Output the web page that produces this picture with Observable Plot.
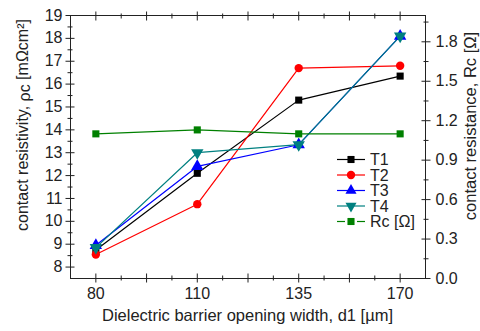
<!DOCTYPE html>
<html><head><meta charset="utf-8">
<script src="https://cdn.jsdelivr.net/npm/d3@7"></script>
<script src="https://cdn.jsdelivr.net/npm/@observablehq/plot@0.6"></script>
<style>
body{margin:0;background:#fff}
#wrap{position:relative;width:480px;height:331px}
#overlay{position:absolute;left:0;top:0;pointer-events:none}
</style>
</head><body><div id="wrap"></div>
<script>
// ---- data ----
const widths = [80, 110, 135, 170];               // d1 [µm], categories
const T1 = [8.75, 12.1, 15.3, 16.35];              // ρc [mΩcm²]
const T2 = [8.55, 10.75, 16.7, 16.8];
const T3 = [8.95, 12.4, 13.35, 18.1];
const T4 = [8.85, 13.0, 13.35, 18.1];
const Rc = [1.10, 1.13, 1.10, 1.10];               // Rc [Ω] (right axis)
const leftTicks = [8, 9, 10, 11, 12, 13, 14, 15, 16, 17, 18, 19];
const rightTicks = [0.0, 0.3, 0.6, 0.9, 1.2, 1.5, 1.8];
const leftDomain = [7.5, 19];
const rightDomain = [0, 2.0];
const seriesNames = ["T1", "T2", "T3", "T4", "Rc [Ω]"];
const seriesColors = ["#000000", "#ff0000", "#0000ff", "#008080", "#008000"];
const xTitle = "Dielectric barrier opening width, d1 [µm]";
const yLeftTitle = ["contact resistivity, ", "ρc", " [mΩcm²]"];
const yRightTitle = "contact resistance, Rc [Ω]";

// ---- helpers ----
const toLeft = r => leftDomain[0] + (r - rightDomain[0]) * (leftDomain[1] - leftDomain[0]) / (rightDomain[1] - rightDomain[0]);
const leftMinor = leftTicks.slice(0, -1).map(v => v + 0.5);
const rStep = rightTicks[1] - rightTicks[0];
const rightMinor = rightTicks.map(v => v + rStep / 2).filter(v => v < rightDomain[1]);
const xMajor = d3.range(0, widths.length - 0.99, 0.5);
const xMinor = xMajor.slice(0, -1).map(v => v + 0.25);
const xLabels = widths.map((_, i) => i);

const rows = [];
const seriesVals = [T1, T2, T3, T4, Rc.map(toLeft)];
seriesVals.forEach((arr, s) => arr.forEach((v, i) => rows.push({s: seriesNames[s], i, v})));

const symbols = ["square", "circle", "triangle", "triangle", "square"];
const rotates = [0, 0, 0, 180, 0];
const radii = [4, 4.2, 4.6, 4.6, 4];
const ink = "#222";
const font = "'Liberation Sans', Arial, sans-serif";

const W = 480, H = 331, mL = 70, mR = 55, mT = 15, mB = 53;

const marks = [];
marks.push(Plot.frame({stroke: ink}));
for (const anchor of ["bottom", "top"]) {
  const sign = anchor === "bottom" ? -1 : 1;
  marks.push(Plot.axisX(xMajor, {anchor, tickSize: 9, dy: sign * 4.5, fill: "none", label: null, stroke: ink}));
  marks.push(Plot.axisX(xMinor, {anchor, tickSize: 5, dy: sign * 2.5, fill: "none", label: null, stroke: ink}));
}
marks.push(Plot.axisX(xLabels, {anchor: "bottom", tickSize: 0, tickPadding: 9, tickFormat: i => widths[i], label: null, fill: ink}));
marks.push(Plot.axisY(leftTicks, {anchor: "left", tickSize: 9, dx: 4.5, fill: "none", label: null, stroke: ink}));
marks.push(Plot.axisY(leftMinor, {anchor: "left", tickSize: 5, dx: 2.5, fill: "none", label: null, stroke: ink}));
marks.push(Plot.axisY(leftTicks, {anchor: "left", tickSize: 0, tickPadding: 8, label: null, fill: ink}));
marks.push(Plot.axisY(rightTicks.map(toLeft), {anchor: "right", tickSize: 9, dx: -4.5, fill: "none", label: null, stroke: ink}));
marks.push(Plot.axisY(rightMinor.map(toLeft), {anchor: "right", tickSize: 5, dx: -2.5, fill: "none", label: null, stroke: ink}));
marks.push(Plot.axisY(rightTicks.map(toLeft), {anchor: "right", tickSize: 0, tickPadding: 10, label: null, fill: ink,
  tickFormat: v => d3.format(".1f")((v - leftDomain[0]) * (rightDomain[1] - rightDomain[0]) / (leftDomain[1] - leftDomain[0]))}));

seriesNames.forEach((name, s) => {
  const d = rows.filter(r => r.s === name);
  marks.push(Plot.line(d, {x: "i", y: "v", stroke: seriesColors[s], strokeWidth: 1.2}));
});
seriesNames.forEach((name, s) => {
  const d = rows.filter(r => r.s === name);
  marks.push(Plot.dot(d, {x: "i", y: "v", symbol: symbols[s], fill: seriesColors[s], stroke: "none", r: radii[s], rotate: rotates[s]}));
});

const chart = Plot.plot({
  width: W, height: H,
  marginLeft: mL, marginRight: mR, marginTop: mT, marginBottom: mB,
  style: {fontFamily: font, fontSize: "16px", color: ink, background: "#fff"},
  x: {type: "linear", domain: [-0.25, widths.length - 0.75], axis: null},
  y: {type: "linear", domain: leftDomain, axis: null},
  marks
});
const wrap = document.getElementById("wrap");
wrap.appendChild(chart);

// ---- overlay: axis titles + legend ----
const ov = d3.select(wrap).append("svg").attr("id", "overlay").attr("width", W).attr("height", H)
  .style("font-family", font).style("font-size", "16px");

ov.append("text").attr("x", (mL + W - mR) / 2).attr("y", 315).attr("dy", "0.35em")
  .attr("text-anchor", "middle").attr("fill", ink).style("font-size", "16.5px").text(xTitle);

const lt = ov.append("text").attr("transform", "translate(22,125) rotate(-90)").attr("dy", "0.35em")
  .attr("text-anchor", "middle").attr("fill", ink).style("font-size", "16px");
lt.append("tspan").text(yLeftTitle[0]);
lt.append("tspan").attr("dy", 2).text(yLeftTitle[1]);
lt.append("tspan").attr("dy", -2).text(yLeftTitle[2]);

ov.append("text").attr("transform", "translate(470,126) rotate(-90)").attr("dy", "0.35em")
  .attr("text-anchor", "middle").attr("fill", ink).style("font-size", "16.5px").text(yRightTitle);

const legX = 337, legY0 = 159.5, legDy = 15.5, legW = 28;
const d3sym = {square: d3.symbolSquare, circle: d3.symbolCircle, triangle: d3.symbolTriangle};
seriesNames.forEach((name, s) => {
  const y = legY0 + s * legDy;
  const g = ov.append("g").attr("transform", `translate(${legX},${y})`);
  if (s === 4) {
    g.append("line").attr("x1", 0).attr("x2", 8).attr("stroke", seriesColors[s]).attr("stroke-width", 1.2);
    g.append("line").attr("x1", legW - 8).attr("x2", legW).attr("stroke", seriesColors[s]).attr("stroke-width", 1.2);
  } else {
    g.append("line").attr("x1", 0).attr("x2", legW).attr("stroke", seriesColors[s]).attr("stroke-width", 1.2);
  }
  g.append("path").attr("d", d3.symbol(d3sym[symbols[s]], Math.PI * radii[s] * radii[s] * (symbols[s] === "triangle" ? 0.8 : 1))())
    .attr("transform", `translate(${legW / 2},0) rotate(${rotates[s]})`).attr("fill", seriesColors[s]);
  g.append("text").attr("x", legW + 5).attr("y", 0).attr("dy", "0.35em").attr("fill", ink).text(name);
});
</script>
</body></html>
